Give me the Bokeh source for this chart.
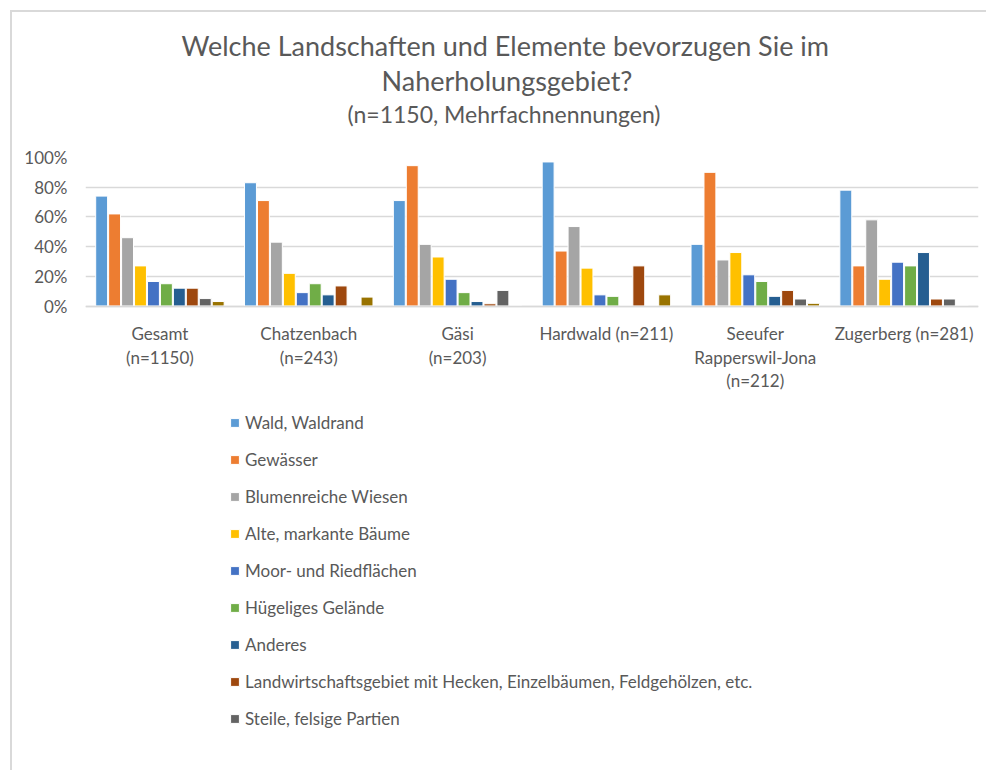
from bokeh.plotting import figure
from bokeh.models import (FactorRange, Range1d, Title, Legend, LegendItem,
                          PrintfTickFormatter, ColumnDataSource, FixedTicker)
from bokeh.transform import dodge
from bokeh.embed import file_html
from bokeh.resources import INLINE

# ---------------- data ----------------
categories = ["Gesamt\n(n=1150)", "Chatzenbach\n(n=243)", "Gäsi\n(n=203)",
              "Hardwald (n=211)", "Seeufer\nRapperswil-Jona\n(n=212)",
              "Zugerberg (n=281)"]

series_names = ["Wald, Waldrand", "Gewässer", "Blumenreiche Wiesen",
                "Alte, markante Bäume", "Moor- und Riedflächen",
                "Hügeliges Gelände", "Anderes",
                "Landwirtschaftsgebiet mit Hecken, Einzelbäumen, Feldgehölzen, etc.",
                "Steile, felsige Partien", "Keine Angabe"]

wald = [74, 83, 71, 97, 41.5, 78]
gewaesser = [62, 71, 94.5, 37, 90, 27]
blumenwiesen = [46, 43, 41.5, 53.5, 31, 58]
alte_baeume = [27, 22, 33, 25.5, 36, 18]
moor = [16.5, 9, 18, 7.5, 21, 29.5]
huegel = [15, 15, 9, 6.5, 16.5, 27]
anderes = [12, 7.5, 3, 0, 6.5, 36]
landwirtschaft = [12, 13.5, 1.5, 27, 10.5, 4.7]
steile = [5, 0, 10.5, 0, 4.7, 4.7]
keine_angabe = [3, 6, 0, 7.5, 1.8, 0]

series_values = [wald, gewaesser, blumenwiesen, alte_baeume, moor, huegel,
                 anderes, landwirtschaft, steile, keine_angabe]
legend_count = 9

colors = ["#5B9BD5", "#ED7D31", "#A5A5A5", "#FFC000", "#4472C4", "#70AD47",
          "#255E91", "#9E480E", "#636363", "#997300"]

y_ticks = [0, 20, 40, 60, 80, 100]

FONT = "Lato"
TXT = "#595959"
LBL = "17px"

# plot area: 100 % at the top of the frame, 0 % at 148.5 px below; the space
# under the 0 % line (inside the frame) holds the category labels and legend
W, H = 976, 760
TOP = 145
px_per_pct = 1.485
y_start = 100 - (H - TOP) / px_per_pct

p = figure(width=W, height=H, x_range=FactorRange(*categories, range_padding=0),
           y_range=Range1d(y_start, 100), output_backend="svg", toolbar_location=None,
           title=None, min_border_left=73, min_border_right=10,
           min_border_top=TOP, min_border_bottom=0)
p.styles = {"margin-left": "10px", "margin-top": "10px",
            "border-top": "2px solid #d9d9d9", "border-left": "2px solid #d9d9d9"}
p.outline_line_color = None
p.background_fill_color = "white"
p.border_fill_color = "white"

slot = 0.087
n = len(series_values)
renderers = []
for i, (name, vals, col) in enumerate(zip(series_names, series_values, colors)):
    src = ColumnDataSource(dict(cat=categories, val=vals))
    r = p.vbar(x=dodge("cat", (i - (n - 1) / 2) * slot, range=p.x_range), top="val",
               width=slot * 0.92, source=src, fill_color=col,
               line_color="white", line_width=1)
    renderers.append(r)

# axes
p.yaxis.ticker = FixedTicker(ticks=y_ticks)
p.yaxis.formatter = PrintfTickFormatter(format="%d%%")
p.yaxis.axis_line_color = None
p.yaxis.major_tick_line_color = None
p.yaxis.minor_tick_line_color = None
p.yaxis.major_tick_out = 0
p.yaxis.major_label_standoff = 18
p.yaxis.major_label_text_font = FONT
p.yaxis.major_label_text_font_size = LBL
p.yaxis.major_label_text_color = TXT

p.xaxis.fixed_location = 0
p.xaxis.axis_line_color = "#d9d9d9"
p.xaxis.axis_line_width = 1.5
p.xaxis.major_tick_line_color = None
p.xaxis.minor_tick_line_color = None
p.xaxis.major_tick_out = 0
p.xaxis.major_label_standoff = 17
p.xaxis.major_label_text_font = FONT
p.xaxis.major_label_text_font_size = LBL
p.xaxis.major_label_text_color = TXT
p.xaxis.major_label_text_line_height = 1.13

p.xgrid.grid_line_color = None
p.ygrid.grid_line_color = "#d9d9d9"
p.ygrid.grid_line_width = 1.5

# titles (first added = closest to plot)
p.add_layout(Title(text="(n=1150, Mehrfachnennungen)\n", align="left", offset=262,
                   text_font=FONT, text_font_size="23px", text_font_style="normal",
                   text_color=TXT, standoff=3), "above")
p.add_layout(Title(text="Naherholungsgebiet?", align="left", offset=296,
                   text_font=FONT, text_font_size="27px", text_font_style="normal",
                   text_color=TXT, standoff=0), "above")
p.add_layout(Title(text="Welche Landschaften und Elemente bevorzugen Sie im",
                   align="left", offset=96,
                   text_font=FONT, text_font_size="27px", text_font_style="normal",
                   text_color=TXT, standoff=0), "above")

legend = Legend(items=[LegendItem(label=series_names[i], renderers=[renderers[i]])
                       for i in range(legend_count)],
                location=(144, 43), orientation="vertical",
                glyph_width=11, glyph_height=11, label_height=20, spacing=16,
                label_standoff=5, padding=0, margin=0,
                border_line_color=None, background_fill_alpha=0,
                label_text_font=FONT, label_text_font_size=LBL,
                label_text_color=TXT)
p.add_layout(legend, "center")

open("out.html", "w").write(file_html(p, INLINE))
